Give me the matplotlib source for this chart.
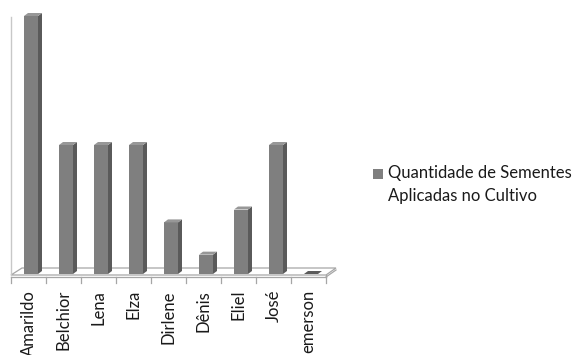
import matplotlib
matplotlib.use("Agg")
import matplotlib.pyplot as plt
from matplotlib.patches import Polygon, Rectangle

nomes = ["Amarildo", "Belchior", "Lena", "Elza", "Dirlene", "Dênis", "Eliel", "José", "emerson"]
sementes = [20, 10, 10, 10, 4, 1.5, 5, 10, 0]
legenda = ["Quantidade de Sementes", "Aplicadas no Cultivo"]

plt.rcParams['font.family'] = ['Lato', 'DejaVu Sans']

W, H = 577, 355
fig = plt.figure(figsize=(W / 100, H / 100), dpi=100)

# plot area in pixels: floor baseline and size of one category / one unit
X0, Y0 = 11, 274
CAT = 35
UNI = 12.9
n = len(nomes)

ax = fig.add_axes([X0 / W, 1 - Y0 / H, n * CAT / W, Y0 / H])
ax.set_xlim(-0.5, n - 0.5)
ax.set_ylim(0, Y0 / UNI)
ax.axis("off")


def dx(p):
    return p / CAT


def dy(p):
    return p / UNI


frente = "#7f7f7f"
lado = "#5a5a5a"
topo = "#979797"
linha = "#a6a6a6"

# floor (thin slab) with ticks
xa, xb = -0.5, n - 0.5
chao = Polygon([(xa, dy(-1)), (xb, dy(-1)), (xb + dx(10), dy(6)), (xa + dx(11), dy(6))],
               closed=True, facecolor="white", edgecolor=linha, lw=0.9, clip_on=False)
ax.add_patch(chao)
ax.plot([xa, xb], [dy(-3), dy(-3)], color=linha, lw=0.9, clip_on=False)
ax.plot([xb, xb], [dy(-1), dy(-3)], color=linha, lw=0.9, clip_on=False)
ax.plot([xb, xb + dx(10)], [dy(-3), dy(4)], color=linha, lw=0.9, clip_on=False)
for k in range(n + 1):
    ax.plot([xa + k, xa + k], [dy(-3), dy(-9)], color=linha, lw=0.9, clip_on=False)

# vertical axis line
ax.plot([xa, xa], [dy(-1), dy(257)], color="#c8c8c8", lw=1.0, clip_on=False)

# bars: front face + side + top
larg = 0.4
desl = dx(2.5)
pos = [i + desl for i in range(n)]
ax.bar(pos, sementes, width=larg, color=frente, edgecolor="none", zorder=3)
px, py = dx(4), dy(3)
for x, h in zip(pos, sementes):
    xl, xr = x - larg / 2, x + larg / 2
    ax.add_patch(Polygon([(xr, 0), (xr + px, py), (xr + px, h + py), (xr, h)],
                         closed=True, facecolor=lado, edgecolor="none", zorder=3))
    ax.add_patch(Polygon([(xl, h), (xl + px, h + py), (xr + px, h + py), (xr, h)],
                         closed=True, facecolor=topo if h > 0 else lado,
                         edgecolor="none", zorder=3))

# category labels
for i, nome in enumerate(nomes):
    ax.text(i, dy(-16), nome, rotation=90, ha="center", va="top",
            fontsize=12, color="#1a1a1a", clip_on=False)

# legend
fig.add_artist(Rectangle((373 / W, 1 - 179 / H), 10 / W, 10 / H,
                         transform=fig.transFigure, facecolor=frente, edgecolor="none"))
fig.text(388 / W, 1 - 173 / H, legenda[0], va="center", ha="left", fontsize=12, color="#1a1a1a")
fig.text(388 / W, 1 - 196 / H, legenda[1], va="center", ha="left", fontsize=12, color="#1a1a1a")

fig.savefig("out.png", dpi=100)
